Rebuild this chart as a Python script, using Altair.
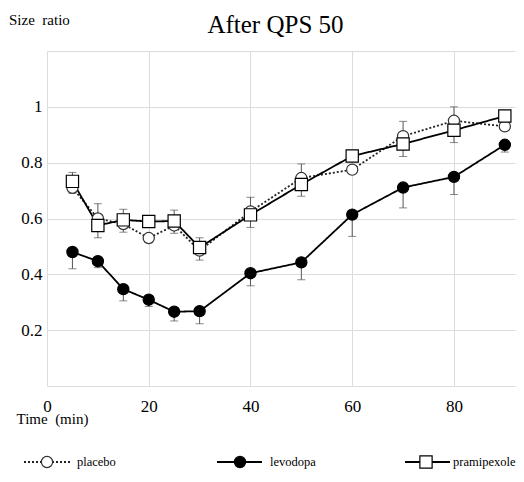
import altair as alt
import pandas as pd

# ---- data ----
time = [5, 10, 15, 20, 25, 30, 40, 50, 60, 70, 80, 90]
placebo = [0.71, 0.60, 0.58, 0.53, 0.575, 0.485, 0.625, 0.745, 0.775, 0.895, 0.95, 0.93]
placebo_err = [0.055, 0.053, 0.053, 0.0, 0.055, 0.046, 0.051, 0.05, 0.0, 0.053, 0.05, 0.0]
levodopa = [0.48, 0.447, 0.347, 0.309, 0.266, 0.268, 0.404, 0.443, 0.614, 0.711, 0.749, 0.864]
levodopa_err = [0.06, 0.023, 0.042, 0.024, 0.033, 0.045, 0.045, 0.062, 0.078, 0.073, 0.063, 0.026]
pramipexole = [0.733, 0.575, 0.595, 0.589, 0.591, 0.496, 0.613, 0.722, 0.824, 0.867, 0.916, 0.967]
pramipexole_err = [0.043, 0.044, 0.044, 0.0, 0.044, 0.045, 0.045, 0.042, 0.0, 0.045, 0.044, 0.0]

x_ticks = [0, 20, 40, 60, 80]
y_ticks = [0, 0.2, 0.4, 0.6, 0.8, 1.0, 1.2]

series = {
    "placebo": (placebo, placebo_err, 1),
    "levodopa": (levodopa, levodopa_err, -1),
    "pramipexole": (pramipexole, pramipexole_err, -1),
}

rows = []
for name, (vals, errs, d) in series.items():
    for t, v, e in zip(time, vals, errs):
        rows.append({"series": name, "time": t, "value": v, "err": e, "end": v + d * e})
df = pd.DataFrame(rows)

SERIF = "Liberation Serif"
W, H = 468, 335

styles = {
    "placebo": dict(dash=[2, 2], line="#222222", shape="circle", fill="white", stroke="#333333", size=125),
    "levodopa": dict(dash=[1, 0], line="black", shape="circle", fill="black", stroke="black", size=125),
    "pramipexole": dict(dash=[1, 0], line="black", shape="square", fill="white", stroke="black", size=150),
}

xs = alt.Scale(domain=[0, 92], nice=False, zero=False)
ys = alt.Scale(domain=[0, 1.2], nice=False)

x_axis = alt.Axis(
    values=x_ticks, grid=True, gridColor="#dcdcdc", gridWidth=1, domain=False,
    ticks=False, tickSize=0, labelFlush=False, labelFont=SERIF, labelFontSize=17,
    labelColor="black", labelPadding=12, labelAngle=0,
    title="Time\u00a0 (min)", titleFont=SERIF, titleFontSize=15, titleFontWeight="normal",
    titleColor="black", titleAlign="left", titleAnchor="start", titleBaseline="alphabetic",
    titleX=-31, titleY=37,
)
y_axis = alt.Axis(
    values=y_ticks, grid=True, gridColor="#dcdcdc", gridWidth=1, domain=False,
    ticks=False, tickSize=0, format="~g",
    labelExpr="datum.value < 0.01 || datum.value > 1.19 ? '' : datum.label",
    labelFont=SERIF, labelFontSize=17, labelColor="black", labelPadding=5,
    title="Size\u00a0 ratio", titleFont=SERIF, titleFontSize=15, titleFontWeight="normal",
    titleColor="black", titleAngle=0, titleAlign="left", titleBaseline="alphabetic",
    titleX=-38.5, titleY=-26.4,
)

X = alt.X("time:Q", scale=xs, axis=x_axis)
Y = alt.Y("value:Q", scale=ys, axis=y_axis)
YE = alt.Y("end:Q", scale=ys, axis=y_axis)

base = alt.Chart(df)

layers = []
order = ["placebo", "levodopa", "pramipexole"]
for name in order:
    s = styles[name]
    layers.append(
        base.transform_filter(alt.datum.series == name).mark_line(
            color=s["line"], strokeWidth=1.8, strokeDash=s["dash"]
        ).encode(x=X, y=Y)
    )
for name in order:
    eb = base.transform_filter((alt.datum.series == name) & (alt.datum.err > 0))
    layers.append(
        eb.mark_rule(color="#555555", strokeWidth=1).encode(x=X, y=Y, y2="end:Q")
    )
    layers.append(
        eb.mark_tick(color="#555555", orient="horizontal", size=8, thickness=1).encode(x=X, y=YE)
    )
for name in order:
    s = styles[name]
    layers.append(
        base.transform_filter(alt.datum.series == name).mark_point(
            shape=s["shape"], filled=True, fill=s["fill"], stroke=s["stroke"],
            strokeWidth=1.2, size=s["size"], opacity=1
        ).encode(x=X, y=Y)
    )

# ---- legend row below the plot ----
LY = 411
legend_pos = {
    "placebo": (-23, 24, 0, 30),
    "levodopa": (170, 215, 193, 223),
    "pramipexole": (358, 403, 379, 406),
}
one = alt.Data(values=[{}])
for name in order:
    s = styles[name]
    x1, x2, xm, xl = legend_pos[name]
    layers.append(
        alt.Chart(one).mark_rule(color=s["line"], strokeWidth=1.8, strokeDash=s["dash"]).encode(
            x=alt.value(x1), x2=alt.value(x2), y=alt.value(LY)
        )
    )
    layers.append(
        alt.Chart(one).mark_point(
            shape=s["shape"], filled=True, fill=s["fill"], stroke=s["stroke"],
            strokeWidth=1.2, size=s["size"], opacity=1
        ).encode(x=alt.value(xm), y=alt.value(LY))
    )
    layers.append(
        alt.Chart(one).mark_text(
            align="left", baseline="middle", font=SERIF, fontSize=12.5, color="black"
        ).encode(x=alt.value(xl), y=alt.value(LY), text=alt.value(name))
    )

chart = alt.layer(*layers).properties(
    width=W, height=H,
    padding={"left": 0, "top": 4, "right": 0, "bottom": 0},
    title=alt.TitleParams(
        "After QPS 50", font=SERIF, fontSize=25, fontWeight="normal", color="black",
        anchor="middle", dx=-5.5, dy=25.6, offset=0,
    ),
).configure_view(stroke=None).configure_axis(
    labelFont=SERIF, titleFont=SERIF, labelColor="black", titleColor="black"
)

chart.save("out.html", embed_options={"renderer": "svg", "actions": False})
